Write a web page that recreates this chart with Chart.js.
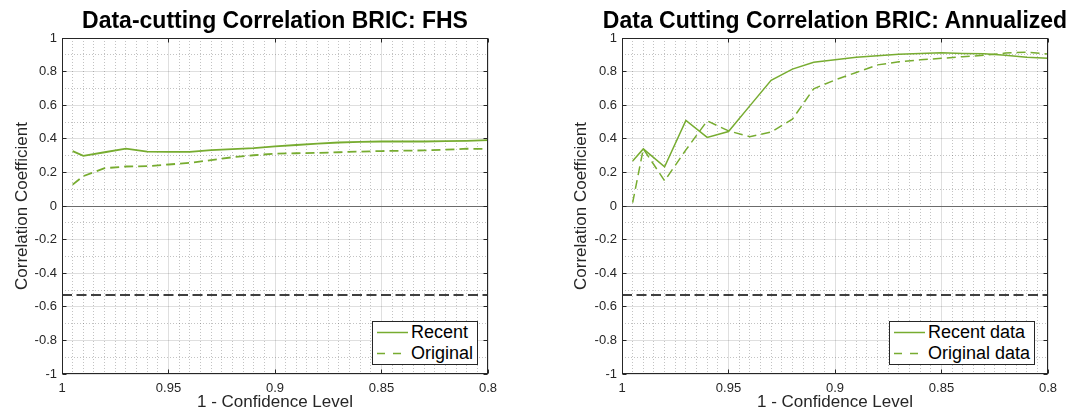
<!DOCTYPE html>
<html>
<head>
<meta charset="utf-8">
<title>Data-cutting Correlation BRIC</title>
<script src="https://cdn.jsdelivr.net/npm/chart.js@4.4.1/dist/chart.umd.min.js"></script>
<style>
  html, body { margin: 0; padding: 0; background: #fff; overflow: hidden; }
  body { width: 1069px; height: 415px; position: relative; font-family: "Liberation Sans", Arial, sans-serif; }
  .panel { position: absolute; top: 0; height: 415px; }
  .panel canvas { position: absolute; left: 0; top: 0; }
  .title { position: absolute; top: 6.5px; line-height: 26px; font-size: 23px; font-weight: bold; color: #000;
           white-space: nowrap; transform: translateX(-50%); }
  .legend { position: absolute; background: #fff; border: 1px solid #262626; padding: 0 4px 0 4px; font-size: 18px; color: #000; }
  .legend .row { display: flex; align-items: center; height: 21px; white-space: nowrap; }
  .legend svg { width: 31px; height: 21px; margin-right: 3px; flex: none; }
</style>
</head>
<body>
<div class="panel" id="panelFhs" style="left:0;width:550px"><canvas id="fhsChart" width="550" height="415"></canvas></div>
<div class="panel" id="panelAnn" style="left:540px;width:529px"><canvas id="annChart" width="529" height="415"></canvas></div>
<script>
// 1 - confidence level at which the correlations were computed
const levels = [0.995, 0.99, 0.98, 0.97, 0.96, 0.95, 0.94, 0.93, 0.92, 0.91, 0.90,
                0.89, 0.88, 0.87, 0.86, 0.85, 0.84, 0.83, 0.82, 0.81, 0.80];

// FHS panel
const fhsRecent   = [0.327, 0.298, 0.320, 0.341, 0.324, 0.322, 0.322, 0.333, 0.339, 0.345, 0.355,
                     0.363, 0.371, 0.378, 0.382, 0.384, 0.384, 0.384, 0.386, 0.388, 0.392];
const fhsOriginal = [0.127, 0.178, 0.225, 0.235, 0.237, 0.247, 0.257, 0.273, 0.290, 0.302, 0.312,
                     0.314, 0.316, 0.320, 0.324, 0.327, 0.329, 0.331, 0.335, 0.341, 0.339];

// annualized panel
const annRecent   = [0.268, 0.340, 0.233, 0.509, 0.408, 0.443, 0.596, 0.748, 0.815, 0.855, 0.870,
                     0.885, 0.895, 0.903, 0.907, 0.912, 0.908, 0.906, 0.897, 0.885, 0.879];
const annOriginal = [0.020, 0.340, 0.150, 0.334, 0.507, 0.447, 0.413, 0.440, 0.517, 0.698, 0.750,
                     0.795, 0.840, 0.858, 0.870, 0.879, 0.889, 0.897, 0.910, 0.916, 0.904];

// critical correlation (black dashed line)
const criticalCorr = -0.53;

const xLimits = [1, 0.8];
const yLimits = [-1, 1];

const FONT = '"Liberation Sans", Arial, sans-serif';
const ink = '#262626';
const green = '#77ac30';
const majorGrid = 'rgba(38,38,38,0.15)';
const minorGrid = 'rgba(38,38,38,0.28)';

Chart.defaults.font.family = FONT;

function pairs(ys) {
  return levels.map((x, i) => ({ x: x, y: ys[i] }));
}

// box around the plot area plus inward tick marks, matlab style
const axesFrame = {
  id: 'axesFrame',
  afterDatasetsDraw(chart) {
    const { ctx, chartArea: a, scales } = chart;
    const L = Math.round(a.left) + 0.5, R = Math.round(a.right) - 0.5;
    const T = Math.round(a.top) + 0.5, B = Math.round(a.bottom) - 0.5;
    const tl = 4;
    ctx.save();
    ctx.strokeStyle = ink;
    ctx.lineWidth = 1;
    ctx.strokeRect(L, T, R - L, B - T);
    ctx.beginPath();
    scales.x.ticks.forEach(t => {
      const px = Math.floor(scales.x.getPixelForValue(t.value)) + 0.5;
      ctx.moveTo(px, B); ctx.lineTo(px, B - tl);
      ctx.moveTo(px, T); ctx.lineTo(px, T + tl);
    });
    scales.y.ticks.forEach(t => {
      const py = Math.floor(scales.y.getPixelForValue(t.value)) + 0.5;
      ctx.moveTo(L, py); ctx.lineTo(L + tl, py);
      ctx.moveTo(R, py); ctx.lineTo(R - tl, py);
    });
    ctx.stroke();
    ctx.restore();
  }
};

function makePanel(canvasId, spec) {
  const ctx = document.getElementById(canvasId).getContext('2d');
  const tickFont = { family: FONT, size: 13 };
  const labelFont = { family: FONT, size: 17 };
  return new Chart(ctx, {
    type: 'line',
    data: {
      datasets: [
        { label: spec.labels[0], data: pairs(spec.recent), borderColor: green, borderWidth: spec.lineWidth,
          pointRadius: 0, inLegend: true, xAxisID: 'x', yAxisID: 'y' },
        { label: spec.labels[1], data: pairs(spec.original), borderColor: green, borderWidth: spec.lineWidth,
          borderDash: [9, 5], pointRadius: 0, inLegend: true, xAxisID: 'x', yAxisID: 'y' },
        { label: 'critical', data: xLimits.map(x => ({ x: x, y: criticalCorr })), borderColor: '#000',
          borderWidth: 1.5, borderDash: [10, 4.5], pointRadius: 0, xAxisID: 'x', yAxisID: 'y' }
      ]
    },
    options: {
      responsive: false,
      animation: false,
      events: [],
      layout: { padding: { left: 0, right: spec.padRight, top: 38, bottom: 0 } },
      plugins: {
        legend: { display: false },
        tooltip: { enabled: false },
        title: { display: false }
      },
      scales: {
        x: {
          type: 'linear', reverse: true, min: xLimits[1], max: xLimits[0],
          ticks: { stepSize: 0.05, color: ink, font: tickFont, padding: 7, maxRotation: 0,
                   callback: v => String(+v.toFixed(2)) },
          grid: { color: majorGrid, drawTicks: false },
          border: { display: false },
          title: { display: true, text: '1 - Confidence Level', color: ink, font: labelFont,
                   padding: { top: 0, bottom: 2 } },
          afterFit: s => { s.height = 41; }
        },
        xMinor: {
          type: 'linear', reverse: true, min: xLimits[1], max: xLimits[0], position: 'bottom',
          ticks: { display: false, stepSize: 0.005 },
          grid: { color: c => (c.index % 10 === 0 ? 'transparent' : minorGrid), drawTicks: false },
          border: { display: false, dash: [1, 2] },
          afterFit: s => { s.height = 0; }
        },
        y: {
          type: 'linear', min: yLimits[0], max: yLimits[1],
          ticks: { stepSize: 0.2, color: ink, font: tickFont, padding: 5,
                   callback: v => String(+v.toFixed(2)) },
          grid: {
            color: c => (Math.abs(c.tick.value) < 1e-9 ? '#6b6b6b' : majorGrid),
            drawTicks: false
          },
          border: { display: false },
          title: { display: true, text: 'Correlation Coefficient', color: ink, font: labelFont,
                   padding: { top: spec.yTitlePad, bottom: 0 } },
          afterFit: s => { s.width = spec.yAxisWidth; }
        },
        yMinor: {
          type: 'linear', min: yLimits[0], max: yLimits[1], position: 'left',
          ticks: { display: false, stepSize: 0.1 },
          grid: { color: c => (c.index % 2 === 0 ? 'transparent' : minorGrid), drawTicks: false },
          border: { display: false, dash: [1, 2] },
          afterFit: s => { s.width = 0; }
        }
      }
    },
    plugins: [axesFrame]
  });
}

// title centred over the plot area
function addTitle(chart, panelId, text) {
  const panel = document.getElementById(panelId);
  const t = document.createElement('div');
  t.className = 'title';
  t.textContent = text;
  const a = chart.chartArea;
  t.style.left = ((a.left + a.right) / 2) + 'px';
  panel.appendChild(t);
}

// html legend in the lower right corner of the plot area
function addLegend(chart, panelId, gapRight, gapBottom) {
  const panel = document.getElementById(panelId);
  const box = document.createElement('div');
  box.className = 'legend';
  chart.data.datasets.filter(ds => ds.inLegend).forEach(ds => {
    const row = document.createElement('div');
    row.className = 'row';
    const dashed = ds.borderDash && ds.borderDash.length;
    row.innerHTML =
      '<svg viewBox="0 0 31 21"><line x1="0" y1="10.5" x2="31" y2="10.5" stroke="' + ds.borderColor +
      '" stroke-width="1.5"' + (dashed ? ' stroke-dasharray="8,8"' : '') + '/></svg><span>' + ds.label + '</span>';
    box.appendChild(row);
  });
  panel.appendChild(box);
  const a = chart.chartArea;
  box.style.left = (a.right - gapRight - box.offsetWidth) + 'px';
  box.style.top = (a.bottom - gapBottom - box.offsetHeight) + 'px';
}

const fhsChart = makePanel('fhsChart', {
  labels: ['Recent', 'Original'],
  recent: fhsRecent, original: fhsOriginal,
  lineWidth: 1.8, padRight: 62, yAxisWidth: 62, yTitlePad: 12
});
addTitle(fhsChart, 'panelFhs', 'Data-cutting Correlation BRIC: FHS');
addLegend(fhsChart, 'panelFhs', 10, 9);

const annChart = makePanel('annChart', {
  labels: ['Recent data', 'Original data'],
  recent: annRecent, original: annOriginal,
  lineWidth: 1.5, padRight: 21, yAxisWidth: 82, yTitlePad: 31
});
addTitle(annChart, 'panelAnn', 'Data Cutting Correlation BRIC: Annualized');
addLegend(annChart, 'panelAnn', 13, 9);
</script>
</body>
</html>
